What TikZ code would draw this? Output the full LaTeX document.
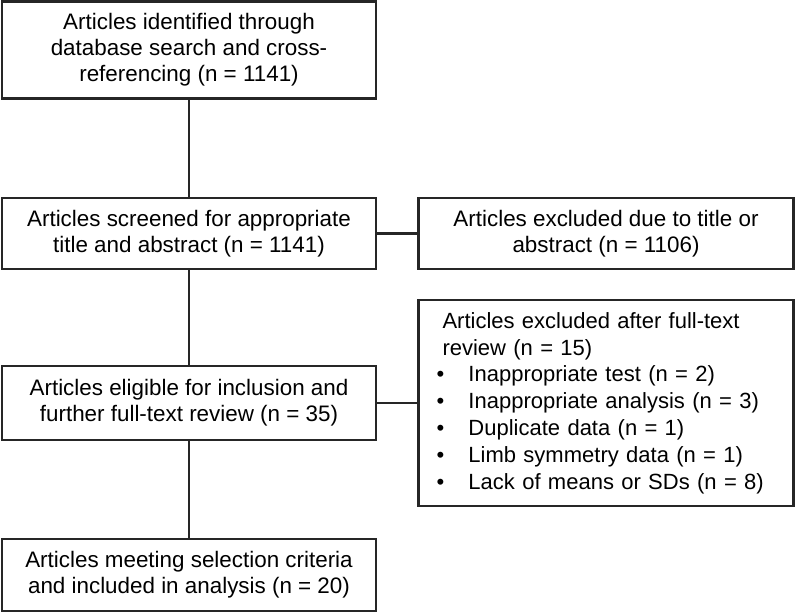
\documentclass[tikz,border=0pt]{standalone}
\usepackage{fontspec}
\setmainfont{Liberation Sans}
\usetikzlibrary{positioning}

\newcommand{\bitem}[1]{\hspace*{-3pt}\makebox[16pt][l]{\textbullet}#1}

\begin{document}
\begin{tikzpicture}[on grid,node distance=208.5pt,
	box/.style={draw=black!85,line width=1.05pt,minimum width=187pt,align=center,inner sep=0pt,
		font=\fontsize{11.2}{13}\selectfont},
	link/.style={draw=black!85,line width=1.05pt}]

	\useasboundingbox (0,0) rectangle (397.5pt,-306pt);

	\node[box,minimum height=48.5pt] (ident) at (94.5pt,-25pt)
		{Articles identified through\\database search and cross-\\referencing (n = 1141)};
	\node[box,minimum height=35.5pt] (screen) [below=91.75pt of ident]
		{Articles screened for appropriate\\title and abstract (n = 1141)};
	\node[box,minimum height=35.5pt,minimum width=187.5pt] (excl_ta) [right=of screen]
		{Articles excluded due to title or\\abstract (n = 1106)};
	\node[box,minimum height=37pt] (elig) [below=84.75pt of screen]
		{Articles eligible for inclusion and\\further full-text review (n = 35)};
	\node[box,minimum height=103pt,text width=163.5pt,inner xsep=12pt,align=left,
		font=\fontsize{11}{13.4}\selectfont] (excl_ft) [right=of elig]
		{Articles excluded after full-text\\review (n = 15)\\
		\bitem{Inappropriate test (n = 2)}\\
		\bitem{Inappropriate analysis (n = 3)}\\
		\bitem{Duplicate data (n = 1)}\\
		\bitem{Limb symmetry data (n = 1)}\\
		\bitem{Lack of means or SDs (n = 8)}};
	\node[box,minimum height=36pt] (incl) [below=86pt of elig]
		{Articles meeting selection criteria\\and included in analysis (n = 20)};

	\draw[link] (ident) -- (screen);
	\draw[link] (screen) -- (elig);
	\draw[link] (elig) -- (incl);
	\draw[link] (screen) -- (excl_ta);
	\draw[link] (elig) -- (excl_ft);
\end{tikzpicture}
\end{document}
